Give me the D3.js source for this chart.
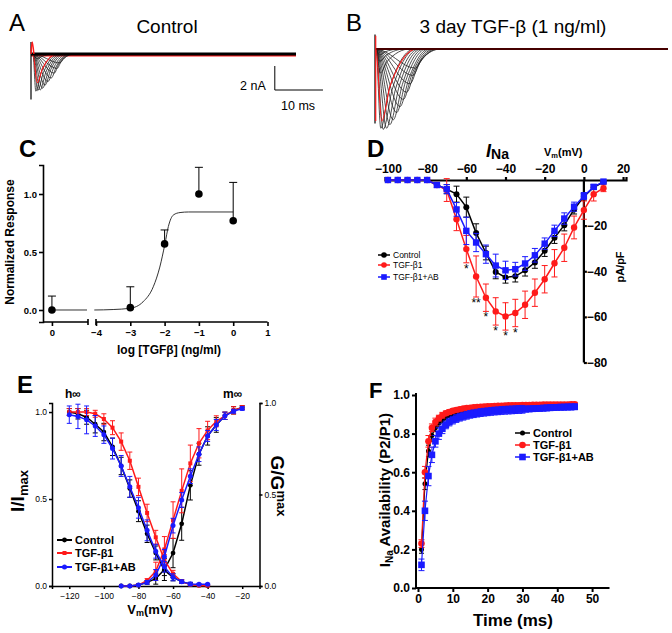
<!DOCTYPE html>
<html><head><meta charset="utf-8">
<script src="https://cdn.jsdelivr.net/npm/d3@7"></script>
<style>body{margin:0;background:#fff}svg{display:block}</style>
</head><body>
<svg id="fig" width="672" height="633"></svg>
<script>
// ================= DATA =================
// Panel A (control) current traces: time to peak (ms), peak (nA), half-decay time (ms), return time (ms)
const traceA_peakMs = [0.6, 1.0, 1.5, 2.0, 2.5, 3.1, 3.8, 4.4, 5.0, 5.6, 0.8, 0.9];
const traceA_ampNa  = [3.1, 3.05, 3.0, 2.85, 2.6, 2.3, 2.0, 1.6, 1.2, 0.75, 0.4, 2.4];
const traceA_halfMs = [1.7, 2.2, 2.7, 3.2, 3.7, 4.3, 4.9, 5.4, 5.9, 6.4, 1.8, 2.0];
const traceA_endMs  = [5.0, 5.4, 5.8, 6.2, 6.6, 7.0, 7.4, 7.8, 8.2, 8.6, 4.5, 5.0];
const traceA_red    = [false,false,false,false,false,false,false,false,false,false,false,true];
// Panel B (3 day TGF-beta) current traces
const traceB_peakMs = [1.0, 1.5, 2.2, 2.9, 3.6, 4.3, 5.0, 5.7, 6.4, 7.1, 7.7, 8.2, 0.8, 0.9, 0.7, 1.2];
const traceB_ampNa  = [6.6, 6.7, 6.6, 6.3, 5.9, 5.3, 4.8, 4.2, 3.6, 2.9, 2.2, 1.6, 1.0, 2.0, 0.5, 6.0];
const traceB_halfMs = [2.8, 3.4, 4.1, 4.8, 5.5, 6.2, 6.9, 7.5, 8.1, 8.7, 9.2, 9.6, 2.2, 2.4, 1.8, 3.0];
const traceB_endMs  = [8.0, 8.5, 9.0, 9.5, 10.0, 10.5, 11.0, 11.5, 12.0, 12.5, 13.0, 13.5, 6.0, 7.0, 5.0, 8.5];
const traceB_red    = [false,false,false,false,false,false,false,false,false,false,false,false,false,false,false,true];

// Panel C: dose response
const cDoseLog   = [-3, -2, -1, 0];
const cResp      = [0.02, 0.57, 1.0, 0.77];
const cErr       = [0.18, 0.12, 0.23, 0.33];
const cCtrlResp  = 0.0;
const cCtrlErr   = 0.12;
const cFitLog    = [-4.05, -3.5, -3.0, -2.63, -2.33, -2.14, -1.99, -1.89, -1.74, -1.55, -1.3, 0];
const cFitResp   = [0.0, 0.004, 0.015, 0.07, 0.2, 0.37, 0.57, 0.72, 0.82, 0.84, 0.845, 0.845];
const cTicksLog  = [-4, -3, -2, -1, 0, 1];

// Panel D: I-V relationship (mV, pA/pF)
const dVm      = [-100,-95,-90,-85,-80,-75,-70,-65,-60,-55,-50,-45,-40,-35,-30,-25,-20,-15,-10,-5,0,5,10];
const dCtrl    = [0,0,0,0,0,-2.2,-4.0,-6.2,-11.9,-23.2,-32.0,-40.3,-42.7,-42.2,-39.6,-36.2,-31.0,-25.3,-19.8,-12.9,-7.3,-3.2,-0.9];
const dCtrlErr = [0,0,0,0,0,1,2,3.5,4.4,4,3,3,2.5,2.5,2.5,2.5,2.5,2.5,2.5,2,1.5,1,0.5];
const dTgf     = [0,0,0,0,0,-2.2,-4.4,-17.2,-30.3,-42.3,-51.6,-57.6,-59.8,-58.3,-54.7,-49.4,-43.5,-36.5,-29.7,-20.8,-13.2,-6.2,-3.6];
const dTgfErr  = [0,0,0,0,0,1,5,5,6,9,6,6,6,6,6,6,6,6,6,5,4,3,1.5];
const dAb      = [0,0,0,0,0,-2.2,-4.0,-12.9,-22.3,-27.4,-32.5,-37.5,-39.6,-39.1,-36.6,-33.0,-27.9,-22.3,-16.9,-11.7,-7.0,-3.0,-0.7];
const dAbErr   = [0,0,0,0,0,1,2,3,6,4,4,5,4,3,3,3,2.5,2.5,2.5,2,1.5,1,0.5];
const dStarVm  = [-60, -55, -50, -45, -40, -35];
const dStarTxt = ["*", "**", "*", "*", "*", "*"];
const dTicksX  = [-100, -80, -60, -40, -20, 0, 20];
const dTicksY  = [-20, -40, -60, -80];

// Panel E: steady-state inactivation (h) and activation (m)
const eVmH     = [-120,-115,-110,-105,-100,-95,-90,-85,-80,-75,-70,-65,-60,-55,-50,-45,-40];
const eHCtrl   = [1.0,0.99,0.97,0.93,0.885,0.80,0.69,0.56,0.43,0.30,0.19,0.09,0.05,0.025,0.01,0.005,0.003];
const eHCtrlE  = [0.02,0.03,0.04,0.05,0.05,0.05,0.05,0.05,0.06,0.05,0.04,0.03,0.02,0.01,0.01,0.005,0.005];
const eHTgf    = [1.0,1.0,1.0,0.99,0.96,0.91,0.83,0.72,0.57,0.42,0.28,0.15,0.07,0.025,0.008,0.003,0.002];
const eHTgfE   = [0.02,0.02,0.02,0.02,0.03,0.04,0.05,0.05,0.05,0.05,0.04,0.03,0.02,0.01,0.005,0.003,0.002];
const eHAb     = [0.985,0.975,0.955,0.92,0.87,0.79,0.69,0.57,0.45,0.32,0.20,0.11,0.05,0.025,0.012,0.01,0.01];
const eHAbE    = [0.05,0.07,0.08,0.06,0.05,0.06,0.06,0.06,0.06,0.06,0.04,0.03,0.02,0.01,0.01,0.005,0.005];
const eVmM     = [-90,-85,-80,-75,-70,-65,-60,-55,-50,-45,-40,-35,-30,-25,-20];
const eMCtrl   = [0,0,0.005,0.02,0.04,0.09,0.18,0.34,0.55,0.72,0.82,0.88,0.93,0.96,0.975];
const eMCtrlE  = [0,0,0.005,0.01,0.03,0.06,0.08,0.09,0.08,0.06,0.05,0.04,0.02,0.02,0.01];
const eMTgf    = [0,0,0.005,0.03,0.08,0.20,0.36,0.52,0.67,0.78,0.85,0.90,0.93,0.96,0.975];
const eMTgfE   = [0,0,0.005,0.01,0.05,0.07,0.1,0.12,0.1,0.08,0.05,0.03,0.02,0.02,0.01];
const eMAb     = [0,0,0.005,0.02,0.06,0.16,0.33,0.47,0.60,0.72,0.82,0.88,0.93,0.955,0.97];
const eMAbE    = [0,0,0.005,0.01,0.03,0.04,0.04,0.04,0.04,0.04,0.03,0.03,0.02,0.01,0.01];
const eTicksX  = [-120,-100,-80,-60,-40,-20];
const eTicksY  = [0, 0.5, 1.0];

// Panel F: recovery from inactivation
const fTime = [1,2,3,4,5,6,7,8,9,10,11,12,13,14,15,16,17,18,19,20,21,22,23,24,25,26,27,28,29,30,31,32,33,34,35,36,37,38,39,40,41,42,43,44,45];
const fCtrl = [0.20,0.54,0.71,0.79,0.83,0.855,0.87,0.885,0.895,0.90,0.905,0.91,0.915,0.918,0.92,0.923,0.925,0.927,0.929,0.93,0.932,0.933,0.934,0.935,0.936,0.937,0.937,0.938,0.938,0.939,0.939,0.94,0.94,0.94,0.941,0.941,0.942,0.942,0.942,0.943,0.943,0.943,0.944,0.944,0.944];
const fTgf  = [0.23,0.60,0.76,0.83,0.86,0.88,0.895,0.905,0.912,0.918,0.922,0.926,0.93,0.932,0.934,0.936,0.938,0.939,0.94,0.941,0.942,0.943,0.944,0.944,0.945,0.946,0.946,0.947,0.947,0.948,0.948,0.948,0.949,0.949,0.949,0.95,0.95,0.95,0.95,0.951,0.951,0.951,0.951,0.952,0.952];
const fAb   = [0.12,0.40,0.58,0.69,0.76,0.80,0.825,0.845,0.86,0.87,0.878,0.885,0.89,0.895,0.90,0.903,0.906,0.909,0.911,0.913,0.915,0.917,0.918,0.92,0.921,0.922,0.923,0.924,0.925,0.926,0.927,0.928,0.929,0.93,0.931,0.932,0.933,0.934,0.935,0.936,0.937,0.937,0.938,0.938,0.939];
const fErrCtrl = [0.02,0.03,0.03,0.03,0.02,0.02,0.015,0.015,0.012,0.012,0.01,0.01,0.01,0.01,0.01,0.01,0.01,0.01,0.01,0.01,0.01,0.01,0.01,0.01,0.01,0.01,0.01,0.01,0.01,0.01,0.01,0.01,0.01,0.01,0.01,0.01,0.01,0.01,0.01,0.01,0.01,0.01,0.01,0.01,0.01];
const fErrTgf  = [0.02,0.03,0.03,0.02,0.02,0.015,0.015,0.012,0.012,0.01,0.01,0.01,0.01,0.01,0.01,0.01,0.01,0.01,0.01,0.01,0.01,0.01,0.01,0.01,0.01,0.01,0.01,0.01,0.01,0.01,0.01,0.01,0.01,0.01,0.01,0.01,0.01,0.01,0.01,0.01,0.01,0.01,0.01,0.01,0.01];
const fErrAb   = [0.03,0.05,0.05,0.04,0.03,0.03,0.025,0.02,0.02,0.02,0.02,0.02,0.02,0.02,0.02,0.02,0.02,0.02,0.02,0.02,0.02,0.02,0.02,0.02,0.02,0.02,0.02,0.02,0.02,0.02,0.015,0.015,0.015,0.015,0.015,0.015,0.015,0.015,0.015,0.015,0.015,0.015,0.015,0.015,0.015];
const fTicksX = [0,10,20,30,40,50];
const fTicksY = [0,0.2,0.4,0.6,0.8,1.0];

const legendLabels = ["Control", "TGF-β1", "TGF-β1+AB"];
const COL = {ctrl:"#000000", tgf:"#ff1a1a", ab:"#1a1aff"};

// ================= DRAWING =================
const FONT = "'Liberation Sans', Arial, Helvetica, sans-serif";
const svg = d3.select("#fig");

function txt(g, x, y, s, size, weight, anchor) {
  return g.append("text").attr("x", x).attr("y", y).text(s)
    .style("font-family", FONT).style("font-size", size + "px")
    .style("font-weight", weight || "normal").attr("text-anchor", anchor || "start").attr("fill", "#000");
}
function styleAxis(g, size, weight, sw) {
  g.selectAll("text").style("font-family", FONT).style("font-size", size + "px").style("font-weight", weight).attr("fill", "#000");
  g.selectAll("path, line").attr("stroke", "#000").attr("stroke-width", sw);
}
function marker(g, shape, x, y, s, color) {
  if (shape === "circle") g.append("circle").attr("cx", x).attr("cy", y).attr("r", s).attr("fill", color);
  else g.append("rect").attr("x", x - s).attr("y", y - s).attr("width", 2 * s).attr("height", 2 * s).attr("fill", color);
}
function series(g, xs, ys, es, xS, yS, color, shape, size, lw, cap, both) {
  const pts = xs.map((x, i) => [x, ys[i], es ? es[i] : 0]);
  const eb = g.append("g").attr("stroke", color).attr("stroke-width", 1);
  pts.forEach(p => {
    if (!p[2]) return;
    const y1 = yS(p[1] + p[2]), y0 = both ? yS(p[1] - p[2]) : yS(p[1]);
    eb.append("line").attr("x1", xS(p[0])).attr("x2", xS(p[0])).attr("y1", y0).attr("y2", y1);
    eb.append("line").attr("x1", xS(p[0]) - cap).attr("x2", xS(p[0]) + cap).attr("y1", y1).attr("y2", y1);
    if (both) eb.append("line").attr("x1", xS(p[0]) - cap).attr("x2", xS(p[0]) + cap).attr("y1", y0).attr("y2", y0);
  });
  g.append("path").datum(pts).attr("fill", "none").attr("stroke", color).attr("stroke-width", lw)
    .attr("d", d3.line().x(d => xS(d[0])).y(d => yS(d[1])));
  pts.forEach(p => marker(g, shape, xS(p[0]), yS(p[1]), size, color));
}

// ---------- Panel A ----------
const gA = svg.append("g");
txt(gA, 9, 31, "A", 24, "normal");
txt(gA, 167, 33, "Control", 19, "normal", "middle");
const xA = d3.scaleLinear().domain([0, 55]).range([31, 296]);
const yA = d3.scaleLinear().domain([0, -1]).range([54, 66]);
const onsetA = 0.4;
const lineA = d3.line().x(d => xA(d[0])).y(d => yA(d[1])).curve(d3.curveMonotoneX);
gA.append("line").attr("x1", xA(0)).attr("x2", xA(55)).attr("y1", yA(-0.15)).attr("y2", yA(-0.15)).attr("stroke", COL.tgf).attr("stroke-width", 1.5);
traceA_peakMs.forEach((pk, i) => {
  const a = traceA_ampNa[i];
  const pts = [[0, 0], [onsetA, 0], [onsetA + pk, -a], [onsetA + traceA_halfMs[i], -a / 2], [onsetA + traceA_endMs[i], 0], [55, 0]];
  gA.append("path").attr("d", lineA(pts)).attr("fill", "none")
    .attr("stroke", traceA_red[i] ? COL.tgf : "#222").attr("stroke-width", traceA_red[i] ? 1.1 : 0.8);
});
gA.append("line").attr("x1", xA(0)).attr("x2", xA(55)).attr("y1", yA(0)).attr("y2", yA(0)).attr("stroke", "#000").attr("stroke-width", 3);
gA.append("line").attr("x1", xA(0)).attr("x2", xA(0)).attr("y1", yA(1.0)).attr("y2", yA(-3.8)).attr("stroke", "#000").attr("stroke-width", 1.2);
gA.append("path").attr("d", lineA([[0, 0], [0.25, 1.0], [0.6, 0]])).attr("fill", "none").attr("stroke", COL.tgf).attr("stroke-width", 1.5);
gA.append("path").attr("d", `M${xA(50.6)},${yA(-1)}V${yA(-3)}H${xA(60.6)}`).attr("fill", "none").attr("stroke", "#000").attr("stroke-width", 1);
txt(gA, 240, 90, "2 nA", 12.5, "normal");
txt(gA, 281, 110, "10 ms", 12.5, "normal");

// ---------- Panel B ----------
const gB = svg.append("g");
txt(gB, 346, 31, "B", 24, "normal");
txt(gB, 513, 33, "3 day TGF-β (1 ng/ml)", 19, "normal", "middle");
const xB = d3.scaleLinear().domain([0, 61]).range([375, 668]);
const yB = d3.scaleLinear().domain([0, -1]).range([49, 61]);
const onsetB = 0.2;
const lineB = d3.line().x(d => xB(d[0])).y(d => yB(d[1])).curve(d3.curveMonotoneX);
traceB_peakMs.forEach((pk, i) => {
  const a = traceB_ampNa[i];
  const pts = [[0, 0], [onsetB, 0], [onsetB + pk, -a], [onsetB + traceB_halfMs[i], -a / 2], [onsetB + traceB_endMs[i], 0], [61, 0]];
  gB.append("path").attr("d", lineB(pts)).attr("fill", "none")
    .attr("stroke", traceB_red[i] ? COL.tgf : "#222").attr("stroke-width", traceB_red[i] ? 1.1 : 0.8);
});
gB.append("line").attr("x1", xB(0)).attr("x2", xB(61)).attr("y1", yB(0)).attr("y2", yB(0)).attr("stroke", "#000").attr("stroke-width", 2.2);
gB.append("line").attr("x1", xB(0)).attr("x2", xB(61)).attr("y1", yB(0)).attr("y2", yB(0)).attr("stroke", "#8b0000").attr("stroke-width", 1);
gB.append("line").attr("x1", xB(0)).attr("x2", xB(0)).attr("y1", yB(1.2)).attr("y2", yB(-6.2)).attr("stroke", "#000").attr("stroke-width", 1.2);
gB.append("line").attr("x1", xB(0.15)).attr("x2", xB(0.15)).attr("y1", yB(1.1)).attr("y2", yB(-6.0)).attr("stroke", COL.tgf).attr("stroke-width", 1.2);

// ---------- Panel C ----------
const gC = svg.append("g");
txt(gC, 19, 157, "C", 24, "bold");
const yC = d3.scaleLinear().domain([-0.1035, 1.25]).range([322, 165]);
const xC = d3.scaleLinear().domain([-4, 1]).range([96, 267.5]);
const xC0 = d3.scaleLinear().domain([-0.26, 1.05]).range([43, 88]);
const ayC = gC.append("g").attr("transform", "translate(43,0)")
  .call(d3.axisLeft(yC).tickValues([0, 0.5, 1.0]).tickFormat(d3.format(".1f")).tickSizeOuter(0).tickSize(4).tickPadding(2));
styleAxis(ayC, 9.5, "bold", 1.6);
const axC0 = gC.append("g").attr("transform", "translate(0,322)")
  .call(d3.axisBottom(xC0).tickValues([0]).tickFormat(d3.format("d")).tickSizeOuter(4).tickSize(4));
styleAxis(axC0, 9.5, "bold", 1.6);
const axC = gC.append("g").attr("transform", "translate(0,322)")
  .call(d3.axisBottom(xC).tickValues(cTicksLog).tickFormat(d3.format("d")).tickSizeOuter(4).tickSize(4));
styleAxis(axC, 9.5, "bold", 1.6);
axC0.select(".domain").attr("d", `M43,0H${xC0(1.05)}M${xC0(1.05)},-3V3`);
axC.select(".domain").attr("d", `M${xC(-4)},-3V3M${xC(-4)},0H${xC(1)}`);
gC.append("path").datum(cFitLog.map((l, i) => [l, cFitResp[i]])).attr("fill", "none").attr("stroke", "#333").attr("stroke-width", 1)
  .attr("d", d3.line().x(d => xC(d[0])).y(d => yC(d[1])).curve(d3.curveMonotoneX));
gC.append("line").attr("x1", xC0(0)).attr("x2", xC0(1.05) - 1).attr("y1", yC(cCtrlResp)).attr("y2", yC(cCtrlResp)).attr("stroke", "#333").attr("stroke-width", 1);
function errUp(g, x, y, e, yS, cap) {
  g.append("line").attr("x1", x).attr("x2", x).attr("y1", yS(y)).attr("y2", yS(y + e)).attr("stroke", "#000").attr("stroke-width", 1);
  g.append("line").attr("x1", x - cap).attr("x2", x + cap).attr("y1", yS(y + e)).attr("y2", yS(y + e)).attr("stroke", "#000").attr("stroke-width", 1);
}
errUp(gC, xC0(0), cCtrlResp, cCtrlErr, yC, 4);
marker(gC, "circle", xC0(0), yC(cCtrlResp), 3.8, "#000");
cDoseLog.forEach((l, i) => { errUp(gC, xC(l), cResp[i], cErr[i], yC, 4); marker(gC, "circle", xC(l), yC(cResp[i]), 3.8, "#000"); });
txt(gC, 169, 354, "log [TGFβ] (ng/ml)", 12, "bold", "middle");
txt(gC, 0, 0, "Normalized Response", 12, "bold", "middle").attr("transform", "translate(14,242) rotate(-90)");

// ---------- Panel D ----------
const gD = svg.append("g");
txt(gD, 367, 157, "D", 24, "bold");
const xD = d3.scaleLinear().domain([-101.5, 21.5]).range([385, 626]);
const yD = d3.scaleLinear().domain([0, -80]).range([180, 362.5]);
const axD = gD.append("g").attr("transform", `translate(0,${yD(0)})`)
  .call(d3.axisTop(xD).tickValues(dTicksX).tickFormat(d3.format("d")).tickSizeOuter(0).tickSize(3).tickPadding(4));
styleAxis(axD, 12, "bold", 2.2);
const ayD = gD.append("g").attr("transform", `translate(${xD(0)},0)`)
  .call(d3.axisRight(yD).tickValues(dTicksY).tickFormat(d3.format("d")).tickSizeOuter(0).tickSize(3).tickPadding(0));
styleAxis(ayD, 12, "bold", 2.2);
ayD.select(".domain").attr("d", `M0,${yD(0)}V${yD(-80)}`);
series(gD, dVm, dCtrl, dCtrlErr, xD, yD, COL.ctrl, "circle", 3, 1.5, 3, true);
series(gD, dVm, dTgf, dTgfErr, xD, yD, COL.tgf, "circle", 3.2, 1.5, 3, true);
series(gD, dVm, dAb, dAbErr, xD, yD, COL.ab, "rect", 3.2, 1.5, 3, true);
dStarVm.forEach((v, i) => {
  const k = dVm.indexOf(v);
  txt(gD, xD(v), yD(dTgf[k] - dTgfErr[k]) + 10, dStarTxt[i], 12, "normal", "middle");
});
{
  const t = gD.append("text").attr("x", 486).attr("y", 157).style("font-family", FONT).style("font-weight", "bold");
  t.append("tspan").text("I").style("font-size", "18px").style("font-style", "italic");
  t.append("tspan").text("Na").style("font-size", "14px").attr("dy", 2);
  const v = gD.append("text").attr("x", 544).attr("y", 156).style("font-family", FONT).style("font-weight", "bold").style("font-size", "11px");
  v.append("tspan").text("V");
  v.append("tspan").text("m").style("font-size", "7.5px").attr("dy", 2);
  v.append("tspan").text("(mV)").attr("dy", -2);
  txt(gD, 0, 0, "pA/pF", 11, "bold", "middle").attr("transform", "translate(624,267) rotate(-90)");
}
[[COL.ctrl, "circle"], [COL.tgf, "circle"], [COL.ab, "rect"]].forEach((c, i) => {
  const y = [255, 265, 277][i];
  gD.append("line").attr("x1", 378).attr("x2", 390).attr("y1", y).attr("y2", y).attr("stroke", c[0]).attr("stroke-width", 1.5);
  marker(gD, c[1], 384, y, 2.8, c[0]);
  txt(gD, 393, y + 3, legendLabels[i], 8.5, "normal");
});

// ---------- Panel E ----------
const gE = svg.append("g");
txt(gE, 17, 393, "E", 24, "bold");
const xE = d3.scaleLinear().domain([-130, -10]).range([52, 259.5]);
const yEL = d3.scaleLinear().domain([0, 1.052]).range([586, 403]);
const yER = d3.scaleLinear().domain([0, 1]).range([586, 403]);
const axE = gE.append("g").attr("transform", "translate(0,586)")
  .call(d3.axisBottom(xE).tickValues(eTicksX).tickFormat(d3.format("d")).tickSizeOuter(0).tickSize(3).tickPadding(4));
styleAxis(axE, 8.5, "normal", 1.5);
const ayEL = gE.append("g").attr("transform", "translate(52,0)")
  .call(d3.axisLeft(yEL).tickValues(eTicksY).tickFormat(d3.format(".1f")).tickSizeOuter(0).tickSize(3).tickPadding(2));
styleAxis(ayEL, 8.5, "normal", 1.5);
const ayER = gE.append("g").attr("transform", "translate(259.5,0)")
  .call(d3.axisRight(yER).tickValues(eTicksY).tickFormat(d3.format(".1f")).tickSizeOuter(0).tickSize(3).tickPadding(2));
styleAxis(ayER, 8.5, "normal", 1.5);
series(gE, eVmH, eHCtrl, eHCtrlE, xE, yEL, COL.ctrl, "circle", 2.4, 1.5, 2.5, true);
series(gE, eVmM, eMCtrl, eMCtrlE, xE, yER, COL.ctrl, "circle", 2.4, 1.5, 2.5, true);
series(gE, eVmH, eHTgf, eHTgfE, xE, yEL, COL.tgf, "rect", 2, 1.5, 2.5, true);
series(gE, eVmM, eMTgf, eMTgfE, xE, yER, COL.tgf, "rect", 2, 1.5, 2.5, true);
series(gE, eVmH, eHAb, eHAbE, xE, yEL, COL.ab, "circle", 2.5, 1.5, 2.5, true);
series(gE, eVmM, eMAb, eMAbE, xE, yER, COL.ab, "circle", 2.5, 1.5, 2.5, true);
txt(gE, 65, 398, "h∞", 12, "bold");
txt(gE, 223, 398, "m∞", 12, "bold");
{
  const v = gE.append("text").attr("x", 150).attr("y", 614).attr("text-anchor", "middle").style("font-family", FONT).style("font-weight", "bold").style("font-size", "13px");
  v.append("tspan").text("V");
  v.append("tspan").text("m").style("font-size", "9px").attr("dy", 2);
  v.append("tspan").text("(mV)").attr("dy", -2);
  const l = gE.append("text").attr("transform", "translate(24,491) rotate(-90)").attr("text-anchor", "middle").style("font-family", FONT).style("font-weight", "bold").style("font-size", "19px");
  l.append("tspan").text("I/I");
  l.append("tspan").text("max").style("font-size", "13px").attr("dy", 4);
  const r = gE.append("text").attr("transform", "translate(271,486) rotate(90)").attr("text-anchor", "middle").style("font-family", FONT).style("font-weight", "bold").style("font-size", "19px");
  r.append("tspan").text("G/G");
  r.append("tspan").text("max").style("font-size", "13px").attr("dy", -6);
}
[[COL.ctrl, "circle", 2.4], [COL.tgf, "rect", 2], [COL.ab, "circle", 2.5]].forEach((c, i) => {
  const y = [540, 553, 567][i];
  gE.append("line").attr("x1", 57).attr("x2", 72).attr("y1", y).attr("y2", y).attr("stroke", c[0]).attr("stroke-width", 2);
  marker(gE, c[1], 64.5, y, c[2], c[0]);
  txt(gE, 75, y + 4, legendLabels[i], 11, "bold");
});

// ---------- Panel F ----------
const gF = svg.append("g");
txt(gF, 369, 398, "F", 22, "bold");
const xF = d3.scaleLinear().domain([0, 55]).range([418, 609.5]);
const yF = d3.scaleLinear().domain([0, 1]).range([588, 395]);
const axF = gF.append("g").attr("transform", "translate(0,588)")
  .call(d3.axisBottom(xF).tickValues(fTicksX).tickFormat(d3.format("d")).tickSizeOuter(0).tickSize(4).tickPadding(2));
styleAxis(axF, 12, "bold", 2);
axF.select(".domain").attr("d", `M416,0H609.5`);
const ayF = gF.append("g").attr("transform", "translate(416,0)")
  .call(d3.axisLeft(yF).tickValues(fTicksY).tickFormat(d3.format(".1f")).tickSizeOuter(0).tickSize(4).tickPadding(2));
styleAxis(ayF, 12, "bold", 2);
ayF.select(".domain").attr("d", `M0,588V393`);
series(gF, fTime, fCtrl, fErrCtrl, xF, yF, COL.ctrl, "circle", 2.5, 1.2, 2.5, true);
series(gF, fTime, fTgf, fErrTgf, xF, yF, COL.tgf, "circle", 3.3, 1.2, 3, true);
series(gF, fTime, fAb, fErrAb, xF, yF, COL.ab, "rect", 3.3, 1.2, 3, true);
txt(gF, 513, 626, "Time (ms)", 17, "bold", "middle");
{
  const l = gF.append("text").attr("transform", "translate(390,490) rotate(-90)").attr("text-anchor", "middle").style("font-family", FONT).style("font-weight", "bold").style("font-size", "15px");
  l.append("tspan").text("I");
  l.append("tspan").text("Na").style("font-size", "10px").attr("dy", 3);
  l.append("tspan").text(" Availability (P2/P1)").attr("dy", -3);
}
[[COL.ctrl, "circle", 2.5], [COL.tgf, "circle", 3.3], [COL.ab, "rect", 3.3]].forEach((c, i) => {
  const y = [433, 445, 457][i];
  gF.append("line").attr("x1", 515).attr("x2", 530).attr("y1", y).attr("y2", y).attr("stroke", c[0]).attr("stroke-width", 1.5);
  marker(gF, c[1], 522.5, y, c[2], c[0]);
  txt(gF, 533, y + 4, legendLabels[i], 11, "bold");
});
</script>
</body></html>
